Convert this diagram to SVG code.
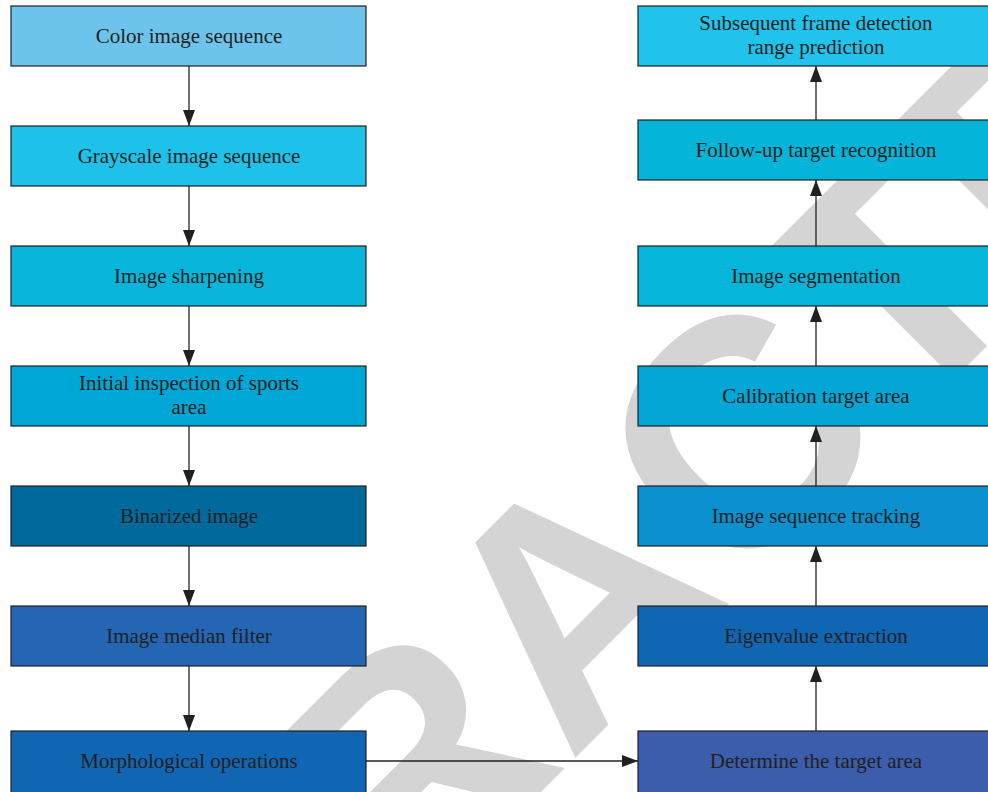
<svg xmlns="http://www.w3.org/2000/svg" width="988" height="792" viewBox="0 0 988 792">
<style>
.box{stroke:#231F20;stroke-width:1.2}
.lbl{font-family:"Liberation Serif","Times New Roman",serif;font-size:21px;fill:#231F20;text-anchor:middle}
.wm{font-family:"Liberation Sans",Arial,sans-serif;font-weight:bold;font-size:324px;fill:#D4D4D4}
.con{stroke:#231F20;stroke-width:1.3;fill:none;marker-end:url(#ah)}
</style>
<defs>
<marker id="ah" markerUnits="userSpaceOnUse" markerWidth="16" markerHeight="12" refX="16" refY="6" orient="auto">
<path d="M0,0 L16,6 L0,12 Z" fill="#231F20"/>
</marker>
</defs>
<rect width="988" height="792" fill="#FFFFFF"/>
<text class="wm" transform="translate(-54,1387) rotate(-45)">RETRACTED</text>
<g id="n1"><rect class="box" x="11" y="6" width="355" height="60" fill="#6CC4EC"/><text class="lbl" x="189" y="43">Color image sequence</text></g>
<g id="n2"><rect class="box" x="11" y="126" width="355" height="60" fill="#1EC1E9"/><text class="lbl" x="189" y="163">Grayscale image sequence</text></g>
<g id="n3"><rect class="box" x="11" y="246" width="355" height="60" fill="#07B6DA"/><text class="lbl" x="189" y="283">Image sharpening</text></g>
<g id="n4"><rect class="box" x="11" y="366" width="355" height="60" fill="#00A6D6"/><text class="lbl" x="189" y="390">Initial inspection of sports</text><text class="lbl" x="189" y="414">area</text></g>
<g id="n5"><rect class="box" x="11" y="486" width="355" height="60" fill="#006A9C"/><text class="lbl" x="189" y="523">Binarized image</text></g>
<g id="n6"><rect class="box" x="11" y="606" width="355" height="60" fill="#2566B4"/><text class="lbl" x="189" y="643">Image median filter</text></g>
<g id="n7"><rect class="box" x="11" y="731" width="355" height="62" fill="#1166B3"/><text class="lbl" x="189" y="768">Morphological operations</text></g>
<g id="n8"><rect class="box" x="638" y="731" width="356" height="62" fill="#3B5DAB"/><text class="lbl" x="816" y="768">Determine the target area</text></g>
<g id="n9"><rect class="box" x="638" y="606" width="356" height="60" fill="#1166B3"/><text class="lbl" x="816" y="643">Eigenvalue extraction</text></g>
<g id="n10"><rect class="box" x="638" y="486" width="356" height="60" fill="#0B90D0"/><text class="lbl" x="816" y="523">Image sequence tracking</text></g>
<g id="n11"><rect class="box" x="638" y="366" width="356" height="60" fill="#03A6D5"/><text class="lbl" x="816" y="403">Calibration target area</text></g>
<g id="n12"><rect class="box" x="638" y="246" width="356" height="60" fill="#05B6DA"/><text class="lbl" x="816" y="283">Image segmentation</text></g>
<g id="n13"><rect class="box" x="638" y="120" width="356" height="60" fill="#05B5D9"/><text class="lbl" x="816" y="157">Follow-up target recognition</text></g>
<g id="n14"><rect class="box" x="638" y="6" width="356" height="60" fill="#21C2EB"/><text class="lbl" x="816" y="30">Subsequent frame detection</text><text class="lbl" x="816" y="54">range prediction</text></g>
<g id="connectors">
<line class="con" x1="189" y1="66" x2="189" y2="126"/>
<line class="con" x1="189" y1="186" x2="189" y2="246"/>
<line class="con" x1="189" y1="306" x2="189" y2="366"/>
<line class="con" x1="189" y1="426" x2="189" y2="486"/>
<line class="con" x1="189" y1="546" x2="189" y2="606"/>
<line class="con" x1="189" y1="666" x2="189" y2="731"/>
<line class="con" x1="366" y1="761" x2="638" y2="761"/>
<line class="con" x1="816" y1="731" x2="816" y2="666"/>
<line class="con" x1="816" y1="606" x2="816" y2="546"/>
<line class="con" x1="816" y1="486" x2="816" y2="426"/>
<line class="con" x1="816" y1="366" x2="816" y2="306"/>
<line class="con" x1="816" y1="246" x2="816" y2="180"/>
<line class="con" x1="816" y1="120" x2="816" y2="66"/>
</g>
</svg>
